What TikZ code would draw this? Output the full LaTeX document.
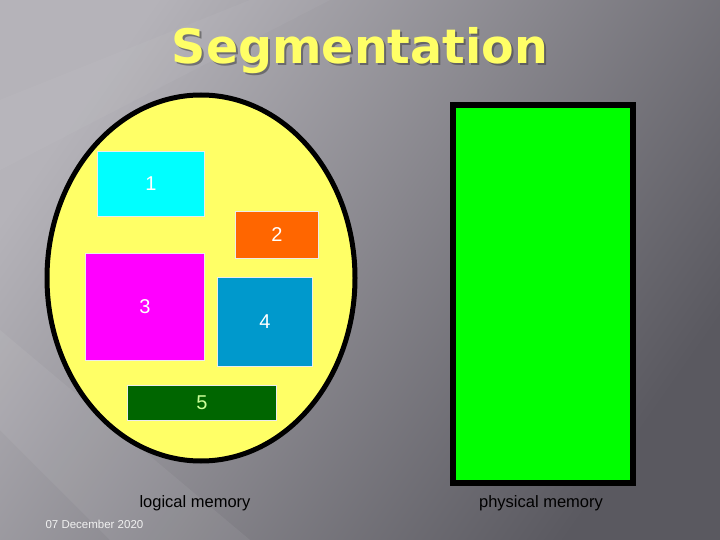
\documentclass[tikz,border=0pt]{standalone}
\usepackage{fontspec}
\setmainfont{Liberation Sans}
\newfontfamily\titlefont{DejaVu Sans}
\usetikzlibrary{shapes.geometric}
\definecolor{bgA}{HTML}{B5B3B9}
\definecolor{bgB}{HTML}{5A5960}
\definecolor{titleY}{HTML}{FFFF66}
\definecolor{ellY}{HTML}{FFFF66}
\definecolor{segA}{HTML}{00FFFF}
\definecolor{segB}{HTML}{FF6600}
\definecolor{segC}{HTML}{FF00FF}
\definecolor{segD}{HTML}{0099CC}
\definecolor{segE}{HTML}{006600}
\definecolor{physG}{HTML}{00FF00}
\definecolor{lblE}{HTML}{CCFF99}
\tikzset{
  seg/.style={draw=white!85!gray, line width=0.8pt, anchor=north west, inner sep=0pt,
    font=\fontsize{20}{24}\selectfont, text=white},
  caption/.style={font=\fontsize{16.5}{20}\selectfont, text=black},
  titletext/.style={font=\titlefont\fontsize{47.5}{50}\selectfont\bfseries, anchor=base},
}
\begin{document}
\begin{tikzpicture}[x=1pt,y=-1pt]
\useasboundingbox (0,0) rectangle (720,540);
% background
\shade[top color=bgA, bottom color=bgB, shading angle=55] (0,0) rectangle (720,540);
\fill[white, opacity=0.06] (110,540) -- (250,540) -- (0,330) -- (0,430) -- cycle;
\fill[white, opacity=0.04] (0,100) -- (0,170) -- (330,0) -- (250,0) -- cycle;
% title
\node[titletext, text=black!75, opacity=0.55] at (362,66) {Segmentation};
\node (title) [titletext, text=titleY] at (360,64) {Segmentation};
% logical memory
\node (logic) [ellipse, draw=black, line width=5pt, fill=ellY, minimum width=308pt, minimum height=366pt, inner sep=0pt] at (201,278) {};
\node (s1) [seg, fill=segA, minimum width=107pt, minimum height=65pt] at (97,151) {1};
\node (s2) [seg, fill=segB, minimum width=83pt, minimum height=47pt] at (235,211) {2};
\node (s3) [seg, fill=segC, minimum width=119pt, minimum height=107pt] at (85,253) {3};
\node (s4) [seg, fill=segD, minimum width=95pt, minimum height=89pt] at (217,277) {4};
\node (s5) [seg, fill=segE, minimum width=149pt, minimum height=35pt, text=lblE] at (127,385) {5};
% physical memory
\node (phys) [draw=black, line width=6pt, fill=physG, anchor=north west, minimum width=180pt, minimum height=378pt, inner sep=0pt] at (450,102) {};
% captions
\node (lcap) [caption] at (195,503) {logical memory};
\node (pcap) [caption] at (541,503) {physical memory};
\node (date) [font=\fontsize{11.5}{13}\selectfont, text=white!88!gray, anchor=west] at (42,524) {07 December 2020};
\end{tikzpicture}
\end{document}
